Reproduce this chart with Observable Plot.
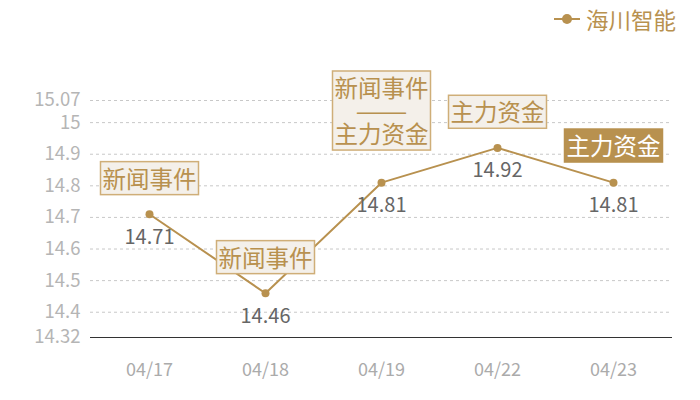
<!DOCTYPE html>
<html>
<head>
<meta charset="utf-8">
<script src="https://cdn.jsdelivr.net/npm/d3@7"></script>
<script src="https://cdn.jsdelivr.net/npm/@observablehq/plot@0.6"></script>
<style>
  body { margin: 0; background: #fff; }
  #wrap { position: relative; width: 700px; height: 400px; font-family: "Noto Sans CJK SC", "Noto Sans", sans-serif; }
  #legend { position: absolute; top: 3px; right: 24px; display: flex; align-items: center; color: #b8914f; font-size: 22.5px; font-family: "Noto Sans CJK SC", sans-serif; }
  #legend svg { margin-right: 6px; }
</style>
</head>
<body>
<div id="wrap">
  <div id="legend"><svg width="26" height="12"><line x1="0" x2="26" y1="6" y2="6" stroke="#b8914f" stroke-width="2"/><circle cx="13" cy="6" r="5" fill="#b8914f"/></svg><span id="legendText"></span></div>
</div>
<script>
const seriesName = "海川智能";
const dates = ["04/17", "04/18", "04/19", "04/22", "04/23"];
const prices = [14.71, 14.46, 14.81, 14.92, 14.81];
const events = ["新闻事件", "新闻事件", "新闻事件\n——\n主力资金", "主力资金", "主力资金"];
const highlighted = [false, false, false, false, true];
const yTicks = [14.32, 14.4, 14.5, 14.6, 14.7, 14.8, 14.9, 15, 15.07];

const gold = "#b8914f";
const data = dates.map((d, i) => ({date: d, price: prices[i], event: events[i], hl: highlighted[i]}));
const normal = data.filter(d => !d.hl && !d.event.includes("\n"));
const multi = data.filter(d => !d.hl && d.event.includes("\n"));
const hl = data.filter(d => d.hl);

document.getElementById("legendText").textContent = seriesName;

const annotFont = {fontSize: 23.5, fontFamily: "Noto Sans CJK SC", lineHeight: 0.98, textAnchor: "middle", lineAnchor: "middle"};

const chart = Plot.plot({
  width: 700,
  height: 400,
  marginTop: 100,
  marginBottom: 63,
  marginLeft: 90,
  marginRight: 28,
  style: {fontFamily: "Noto Sans CJK SC, Noto Sans, sans-serif", background: "transparent"},
  x: {type: "point", domain: dates, padding: 0.5, label: null, axis: null},
  y: {domain: [14.32, 15.07], label: null, axis: null},
  marks: [
    Plot.gridY(yTicks.slice(1), {stroke: "#c8c8c8", strokeOpacity: 1, strokeDasharray: "3,3", strokeWidth: 1}),
    Plot.ruleY([yTicks[0]], {stroke: "#333", strokeWidth: 1.2}),
    Plot.axisY(yTicks, {tickSize: 0, tickPadding: 10, fill: "#b5b5b5", fontSize: 18.5, tickFormat: d => String(d), label: null}),
    Plot.axisX({tickSize: 0, tickPadding: 0, dy: 26, fill: "#ababab", fontSize: 18, label: null, frameAnchor: "bottom"}),
    Plot.line(data, {x: "date", y: "price", stroke: gold, strokeWidth: 2}),
    Plot.dot(data, {x: "date", y: "price", r: 4, fill: gold}),
    Plot.text(data, {x: "date", y: "price", text: d => d.price.toFixed(2), dy: 23, fill: "#666", fontSize: 20, fontFamily: "Noto Sans CJK SC"}),
    Plot.text(normal, {x: "date", y: "price", text: "event", dy: -34, fill: gold, className: "annot", ...annotFont}),
    Plot.text(multi, {x: "date", y: "price", text: "event", dy: -70, fill: gold, className: "annot", ...annotFont}),
    Plot.text(hl, {x: "date", y: "price", text: "event", dy: -35, fill: "#fff", className: "annot-hl", ...annotFont})
  ]
});

document.getElementById("wrap").prepend(chart);

// stretch the separator dash to full width, centred
chart.querySelectorAll("g.annot tspan").forEach(ts => {
  if (/^[—]+$/.test(ts.textContent.trim())) {
    ts.setAttribute("x", -26);
    ts.setAttribute("text-anchor", "start");
    ts.setAttribute("textLength", 52);
    ts.setAttribute("lengthAdjust", "spacingAndGlyphs");
  }
});

// add boxes behind the annotation texts
function boxify(cls, fill, stroke) {
  chart.querySelectorAll("g." + cls + " text").forEach(t => {
    const b = t.getBBox();
    const r = document.createElementNS("http://www.w3.org/2000/svg", "rect");
    r.setAttribute("x", b.x - 2);
    r.setAttribute("y", b.y + 1);
    r.setAttribute("width", b.width + 4);
    r.setAttribute("height", b.height - 1);
    r.setAttribute("fill", fill);
    r.setAttribute("stroke", stroke);
    r.setAttribute("stroke-width", 1.5);
    const tr = t.getAttribute("transform");
    if (tr) r.setAttribute("transform", tr);
    t.parentNode.insertBefore(r, t);
  });
}
boxify("annot", "#f4f0ea", "#cfae78");
boxify("annot-hl", gold, gold);
</script>
</body>
</html>
